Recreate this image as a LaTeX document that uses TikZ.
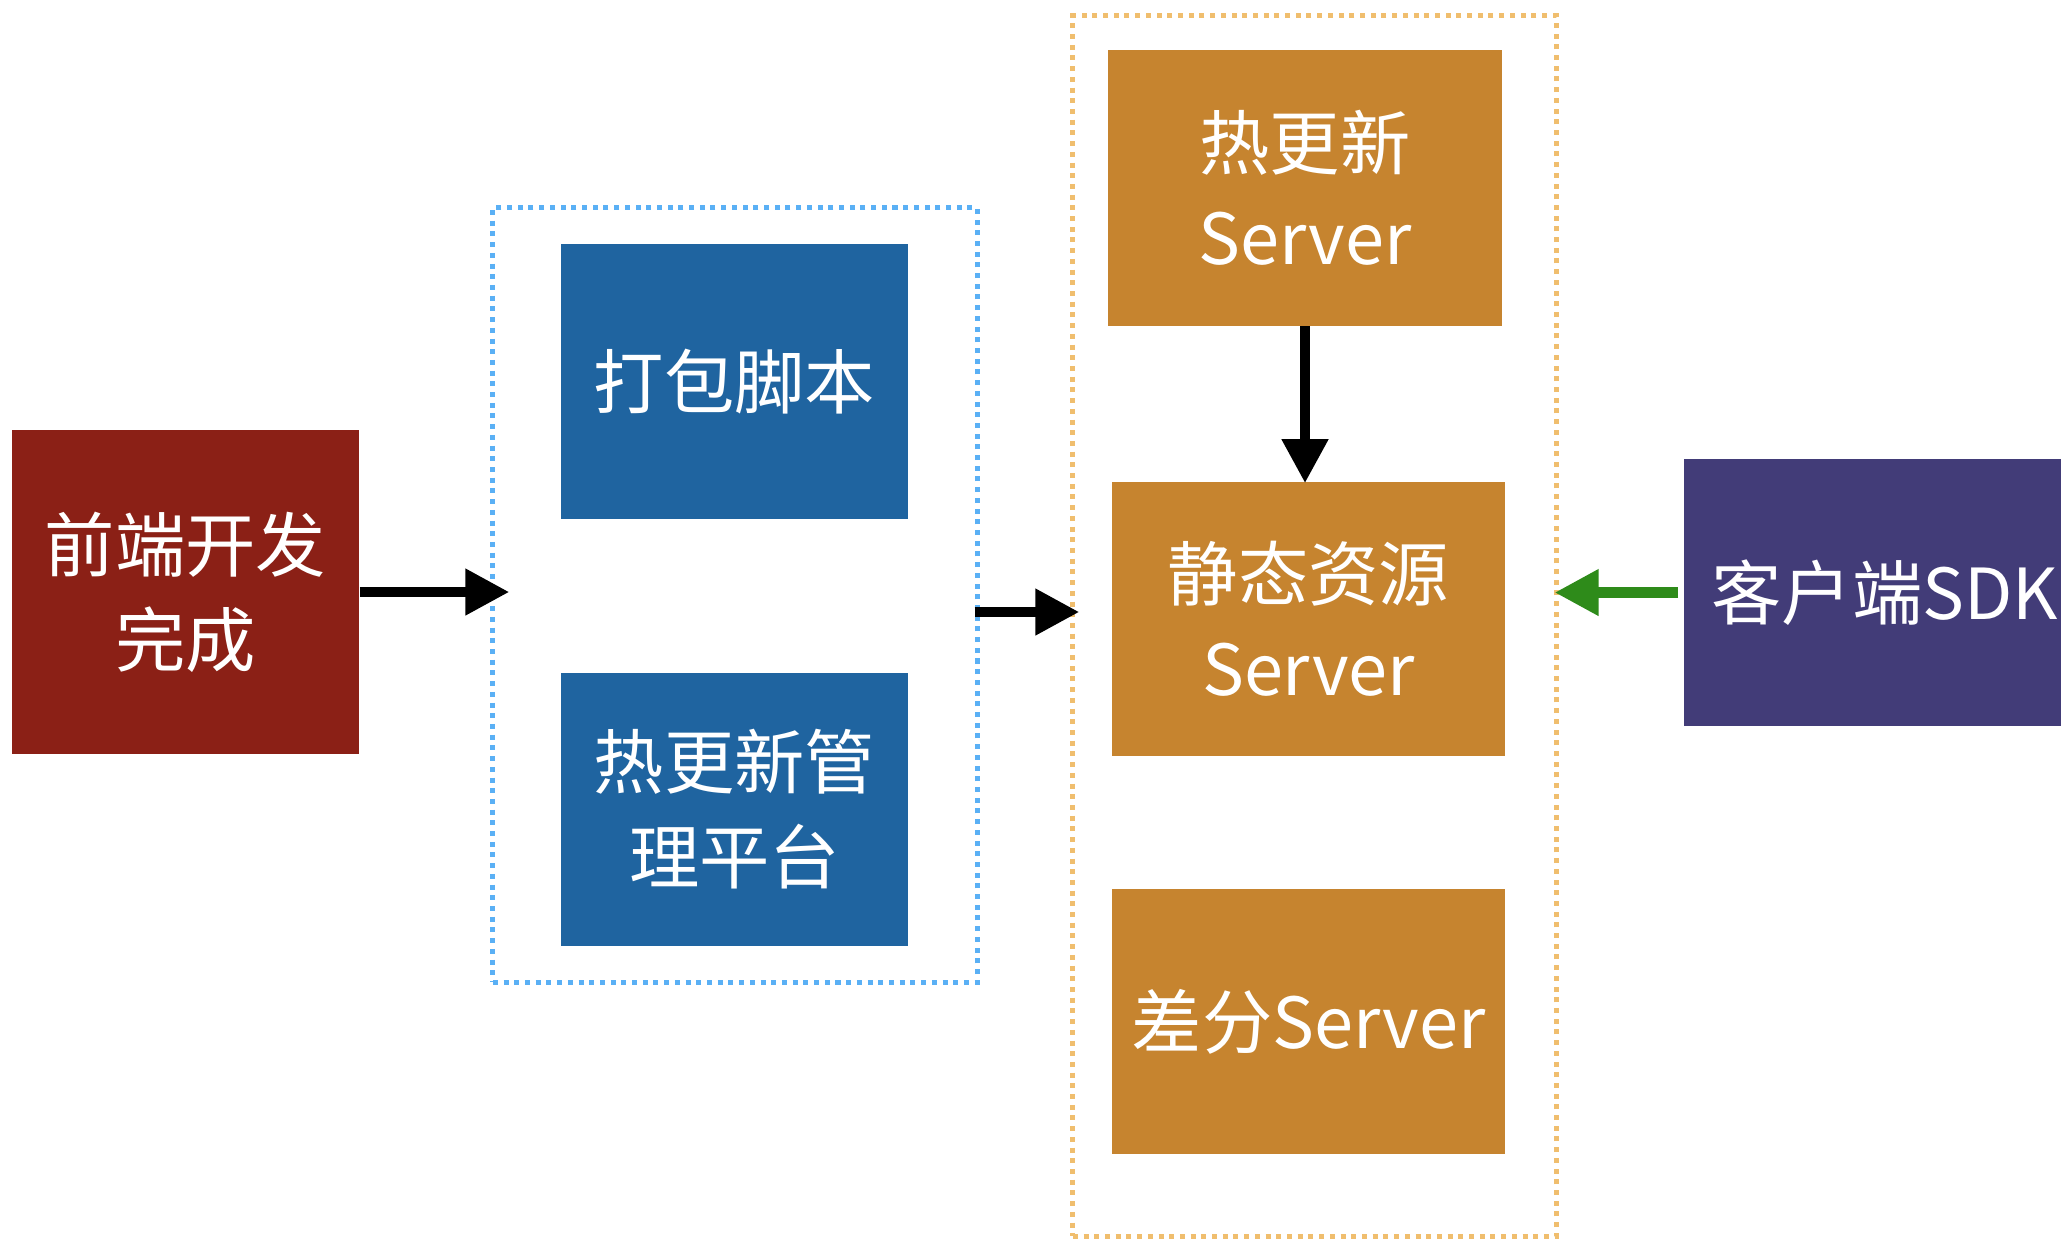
\documentclass[tikz,border=0pt]{standalone}
\usepackage{fontspec}
\setmainfont{Noto Sans CJK SC}
\usepackage{xcolor}
\usetikzlibrary{arrows.meta,positioning}

\definecolor{frontred}{RGB}{139,32,22}
\definecolor{packblue}{RGB}{31,100,160}
\definecolor{srvorange}{RGB}{198,132,47}
\definecolor{sdkpurple}{RGB}{66,60,120}
\definecolor{grpblue}{RGB}{90,176,245}
\definecolor{grporange}{RGB}{240,190,110}
\definecolor{pullgreen}{RGB}{46,139,26}

\tikzset{
  box/.style={inner sep=0pt, align=center, text=white,
    font=\fontsize{20}{27}\selectfont},
  group/.style={line width=0.05cm, dash pattern=on 0.05cm off 0.057cm, inner sep=0pt},
  arr/.style={line width=0.105cm, -{Triangle[length=0.44cm,width=0.44cm]}}
}

\begin{document}
\begin{tikzpicture}[x=0.01cm, y=-0.01cm]
    \useasboundingbox (0,0) rectangle (2061,1238);

    % Groups
    \node[group, draw=grpblue, minimum width=4.84cm, minimum height=7.74cm] (pkg) at (735,595) {};
    \node[group, draw=grporange, minimum width=4.83cm, minimum height=12.2cm] (srv) at (1314.5,626) {};

    % Front end
    \node[box, fill=frontred, minimum width=3.47cm, minimum height=3.24cm] (front) at (185.5,592) {前端开发\\完成};

    % Packaging
    \node[box, fill=packblue, minimum width=3.47cm, minimum height=2.75cm] (script) at (734.5,381.5) {打包脚本};
    \node[box, fill=packblue, minimum width=3.47cm, minimum height=2.73cm] (admin) at (734.5,809.5) {热更新管\\理平台};

    % Servers
    \node[box, fill=srvorange, minimum width=3.94cm, minimum height=2.75cm] (hot) at (1305,188) {热更新\\Server};
    \node[box, fill=srvorange, minimum width=3.93cm, minimum height=2.74cm] (static) at (1308.5,619) {静态资源\\Server};
    \node[box, fill=srvorange, minimum width=3.93cm, minimum height=2.65cm] (diff) at (1308.5,1021.5) {差分Server};

    % Client
    \node[box, fill=sdkpurple, minimum width=4.02cm, minimum height=2.67cm] (sdk) at (1885,592.5) {客户端SDK};

    % Flow
    \draw[arr, shorten >=-0.19cm] (front.east) -- (front.east -| pkg.west);
    \draw[arr, shorten <=-0.05cm, shorten >=-0.09cm] ([yshift=0.07cm]pkg.east |- static.west) -- ([yshift=0.07cm]srv.west |- static.west);
    \draw[arr] (hot.south) -- ([yshift=-0.02cm]hot.south |- static.north);
    \draw[arr, pullgreen, shorten <=0.05cm, shorten >=-0.04cm] (sdk.west) -- (sdk.west -| srv.east);
\end{tikzpicture}
\end{document}
